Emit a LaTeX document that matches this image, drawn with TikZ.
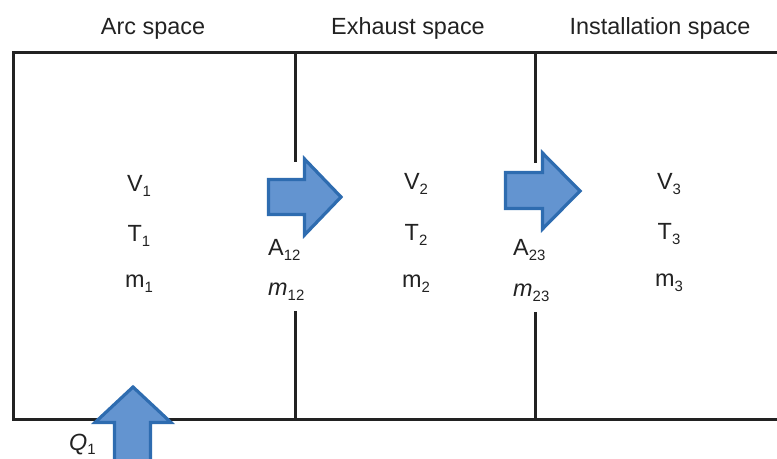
\documentclass[tikz,border=0pt]{standalone}
\usepackage{fontspec}
\setmainfont{Liberation Sans}
\definecolor{flowfill}{RGB}{99,148,208}
\definecolor{flowline}{RGB}{46,108,176}
\definecolor{ink}{RGB}{34,34,34}
\newcommand\sbs[1]{\raisebox{-0.35ex}{\fontsize{15}{15}\selectfont #1}}

\begin{document}
\begin{tikzpicture}[
  x=1bp, y=-1bp,
  font=\fontsize{23.5}{28}\selectfont, text=ink,
  wall/.style={draw=ink, line width=3bp},
  flow/.style={draw=flowline, fill=flowfill, line width=3.2bp, miter limit=10},
  lbl/.style={anchor=base, inner sep=0pt}
]
\useasboundingbox (0,0) rectangle (777,459);

% outer walls and the two partitions
\draw[wall] (777,419) -- (13,419) -- (13,52.5) -- (777,52.5);
\draw[wall] (295,52.5) -- (295,162);
\draw[wall] (295,311)  -- (295,419);
\draw[wall] (535,52.5) -- (535,163);
\draw[wall] (535,312)  -- (535,419);

% headers
\node[lbl] (arc)  at (153,35) {Arc space};
\node[lbl] (exh)  at (408,35) {Exhaust space};
\node[lbl] (inst) at (660,35) {Installation space};

% state of each space
\node[lbl] (v1) at (139,192) {V\sbs{1}};
\node[lbl] (t1) at (139,242) {T\sbs{1}};
\node[lbl] (m1) at (139,288) {m\sbs{1}};
\node[lbl] (v2) at (416,190) {V\sbs{2}};
\node[lbl] (t2) at (416,241) {T\sbs{2}};
\node[lbl] (m2) at (416,288) {m\sbs{2}};
\node[lbl] (v3) at (669,190) {V\sbs{3}};
\node[lbl] (t3) at (669,240) {T\sbs{3}};
\node[lbl] (m3) at (669,287) {m\sbs{3}};

% openings
\node[lbl, anchor=base west] (a12)  at (268,256) {A\sbs{12}};
\node[lbl, anchor=base west] (mf12) at (268,296) {\textit{m}\sbs{12}};
\node[lbl, anchor=base west] (a23)  at (513,256) {A\sbs{23}};
\node[lbl, anchor=base west] (mf23) at (513,297) {\textit{m}\sbs{23}};

% flows
\draw[flow] (268.5,179.5) -- (304.5,179.5) -- (304.5,159) -- (341,197)
  -- (304.5,235) -- (304.5,214.5) -- (268.5,214.5) -- cycle;
\draw[flow] (505.5,172.5) -- (542.5,172.5) -- (542.5,153) -- (580,191)
  -- (542.5,229) -- (542.5,208.5) -- (505.5,208.5) -- cycle;
\draw[flow] (114.5,466) -- (114.5,422.5) -- (95,422.5) -- (133,387)
  -- (171,422.5) -- (150.5,422.5) -- (150.5,466) -- cycle;

\node[lbl, anchor=base west] (q1) at (69,450) {\textit{Q}\sbs{1}};
\end{tikzpicture}
\end{document}
